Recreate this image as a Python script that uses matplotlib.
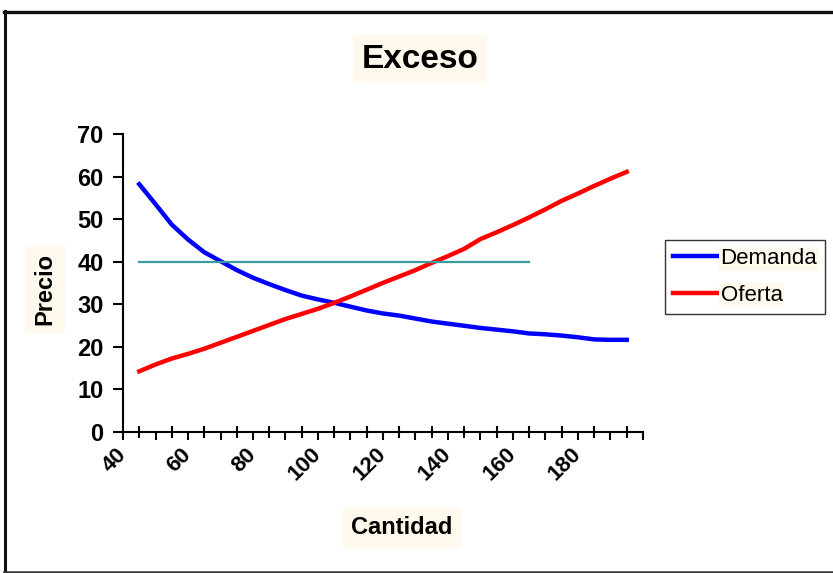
import matplotlib
matplotlib.use("Agg")
import matplotlib.pyplot as plt
from matplotlib.lines import Line2D
import numpy as np

plt.rcParams['font.family'] = ['Liberation Sans', 'DejaVu Sans']

# cantidades (eje x)
cantidad = [45, 50, 55, 60, 65, 70, 75, 80, 85, 90, 95, 100, 105, 110, 115, 120,
            125, 130, 135, 140, 145, 150, 155, 160, 165, 170, 175, 180, 185, 190, 195]

demanda = [58.2, 53.5, 48.7, 45.2, 42.2, 40.1, 38.0, 36.2, 34.7, 33.3, 32.0, 31.1,
           30.3, 29.4, 28.5, 27.8, 27.3, 26.6, 25.9, 25.4, 24.9, 24.4, 24.0, 23.6,
           23.1, 22.9, 22.6, 22.2, 21.7, 21.6, 21.6]

oferta = [14.2, 15.8, 17.2, 18.3, 19.5, 20.9, 22.3, 23.7, 25.1, 26.5, 27.7, 28.9,
          30.3, 31.8, 33.4, 35.0, 36.5, 38.0, 39.7, 41.3, 43.0, 45.3, 46.9, 48.6,
          50.4, 52.3, 54.3, 56.0, 57.8, 59.5, 61.1]

# precio fijo (linea de exceso)
precio_q = [45, 165]
precio_fijo = [40, 40]

x_labels = [40, 60, 80, 100, 120, 140, 160, 180]
y_ticks = [0, 10, 20, 30, 40, 50, 60, 70]

cream = '#FFF8EC'

fig = plt.figure(figsize=(8.33, 5.73), dpi=100)
ax = fig.add_axes([123 / 833, 1 - 431.7 / 573, 520 / 833, 297.7 / 573])

ax.plot(cantidad, demanda, color='#0000FF', lw=3.2, label='Demanda')
ax.plot(cantidad, oferta, color='#FF0000', lw=3.2, label='Oferta')
ax.plot(precio_q, precio_fijo, color='#3C9C9C', lw=1.6)

ax.set_xlim(40, 200)
ax.set_ylim(0, 70)

for s in ['top', 'right']:
    ax.spines[s].set_visible(False)
for s in ['left', 'bottom']:
    ax.spines[s].set_linewidth(1.5)

# y axis
ax.set_yticks(y_ticks)
ax.set_yticklabels([str(v) for v in y_ticks], fontsize=17, fontweight='bold')
ax.tick_params(axis='y', direction='out', length=7, width=1.5, pad=7)

# x axis: ticks every 10 outside, odd fives crossing
major = np.arange(40, 201, 10)
ax.set_xticks(major)
ax.set_xticklabels([str(v) if (v in x_labels) else '' for v in major],
                   fontsize=16, fontweight='bold', rotation=45,
                   ha='right', va='center', rotation_mode='anchor')
ax.set_xticks(np.arange(45, 200, 10), minor=True)
ax.tick_params(axis='x', which='major', direction='out', length=6, width=1.5, pad=8)
ax.tick_params(axis='x', which='minor', direction='inout', length=8, width=1.5)

# title and axis labels
fig.text(420 / 833, 1 - 59 / 573, 'Exceso', fontsize=24, fontweight='bold',
         ha='center', va='center',
         bbox=dict(facecolor=cream, edgecolor='none', pad=6))
fig.text(45 / 833, 1 - 289 / 573, 'Precio', fontsize=17, fontweight='bold',
         rotation=90, ha='center', va='center',
         bbox=dict(facecolor=cream, edgecolor='none', pad=6))
fig.text(402 / 833, 1 - 528 / 573, 'Cantidad', fontsize=17, fontweight='bold',
         ha='center', va='center',
         bbox=dict(facecolor=cream, edgecolor='none', pad=6))

leg = fig.legend(loc='center left', bbox_to_anchor=(665 / 833, 1 - 277 / 573),
                 fontsize=16, frameon=True, fancybox=False, handlelength=2.0,
                 handletextpad=0.15, borderpad=0.35, labelspacing=0.7,
                 borderaxespad=0)
leg.get_frame().set_edgecolor('black')
leg.get_frame().set_linewidth(1.0)
for t in leg.get_texts():
    t.set_bbox(dict(facecolor=cream, edgecolor='none', pad=1))

# outer frame
fig.add_artist(Line2D([4.5 / 833, 4.5 / 833], [1 - 11 / 573, 1 - 572 / 573],
                      transform=fig.transFigure, color='#111111', lw=2.2))
fig.add_artist(Line2D([3.5 / 833, 1.0], [1 - 11.5 / 573, 1 - 11.5 / 573],
                      transform=fig.transFigure, color='#111111', lw=2.4))
fig.add_artist(Line2D([3.5 / 833, 1.0], [1 - 571.5 / 573, 1 - 571.5 / 573],
                      transform=fig.transFigure, color='#333333', lw=1.8))

fig.savefig('out.png', dpi=100)
